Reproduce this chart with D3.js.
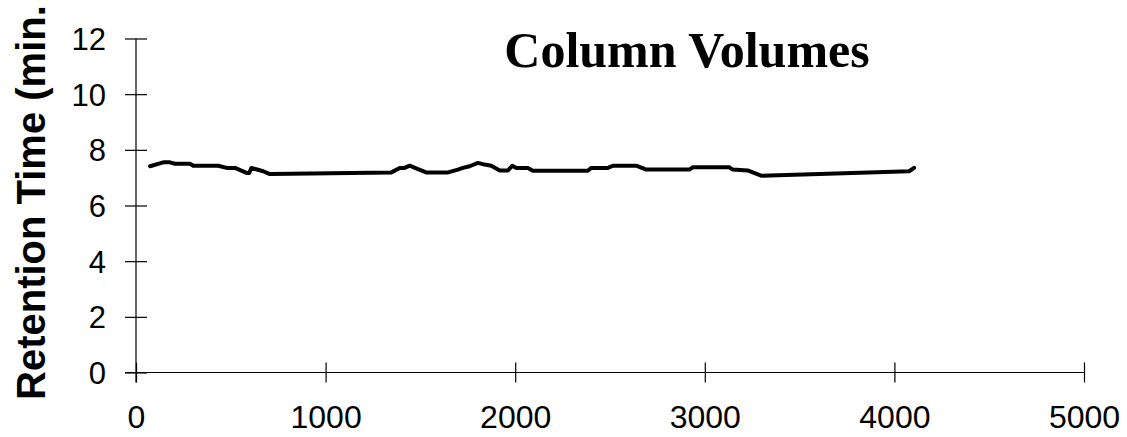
<!DOCTYPE html>
<html><head><meta charset="utf-8">
<script src="https://cdn.jsdelivr.net/npm/d3@7"></script>
<style>html,body{margin:0;padding:0;background:#fff;}svg{display:block;}</style>
</head><body>
<script>
const titleText = "Column Volumes";
const yLabelText = "Retention Time (min.";
const xTicks = [0, 1000, 2000, 3000, 4000, 5000];
const yTicks = [0, 2, 4, 6, 8, 10, 12];
const columnVolumes = [74,144,179,205,285,302,434,478,522,583,597,609,671,706,1347,1391,1417,1444,1487,1531,1646,1698,1724,1760,1803,1839,1874,1918,1962,1985,2006,2067,2093,2383,2401,2489,2515,2638,2691,2919,2936,3130,3147,3226,3297,4078,4104];
const retentionTimes = [7.41,7.55,7.55,7.50,7.50,7.43,7.43,7.35,7.35,7.17,7.17,7.35,7.23,7.13,7.19,7.35,7.35,7.43,7.31,7.19,7.19,7.29,7.35,7.41,7.53,7.47,7.43,7.26,7.26,7.43,7.35,7.35,7.25,7.25,7.35,7.35,7.43,7.43,7.29,7.29,7.37,7.37,7.29,7.26,7.07,7.23,7.35];

const W = 1127, H = 437;
const svg = d3.select("body").append("svg").attr("width", W).attr("height", H);
const x = d3.scaleLinear().domain([0, 5000]).range([136, 1084]);
const y = d3.scaleLinear().domain([0, 12]).range([372.5, 38.5]);

// axes
const xAxis = d3.axisBottom(x).tickValues(xTicks).tickSize(0).tickFormat(d3.format("d"));
const gx = svg.append("g").attr("transform", `translate(0,${y(0)})`).call(xAxis);
gx.select(".domain").remove();
svg.append("line").attr("x1", 125).attr("x2", x(5000)).attr("y1", y(0)).attr("y2", y(0)).attr("stroke", "#000").attr("stroke-width", 1.2);
gx.selectAll(".tick").append("line").attr("y1", -10).attr("y2", 10).attr("stroke", "#000").attr("stroke-width", 1.2);
gx.selectAll(".tick text").attr("y", 55.5).attr("dy", 0).attr("fill", "#000")
  .style("font-family", "Arial, 'Liberation Sans', sans-serif").style("font-size", "32px");

const yAxis = d3.axisLeft(y).tickValues(yTicks).tickSize(0);
const gy = svg.append("g").attr("transform", `translate(${x(0)},0)`).call(yAxis);
gy.select(".domain").remove();
svg.append("line").attr("x1", x(0)).attr("x2", x(0)).attr("y1", y(12)).attr("y2", y(0) + 10).attr("stroke", "#000").attr("stroke-width", 1.2);
gy.selectAll(".tick").append("line").attr("x1", -11).attr("x2", 11).attr("stroke", "#000").attr("stroke-width", 1.2);
gy.selectAll(".tick text").attr("x", -30).attr("dy", "0.35em").attr("fill", "#000")
  .style("font-family", "Arial, 'Liberation Sans', sans-serif").style("font-size", "31px");

// line
const pts = columnVolumes.map((v, i) => [v, retentionTimes[i]]);
svg.append("path").datum(pts)
  .attr("d", d3.line().x(d => x(d[0])).y(d => y(d[1])))
  .attr("fill", "none").attr("stroke", "#000").attr("stroke-width", 4)
  .attr("stroke-linejoin", "round").attr("stroke-linecap", "round");

// title
svg.append("text").attr("x", 687).attr("y", 67).attr("text-anchor", "middle")
  .style("font-family", "'Times New Roman', 'Liberation Serif', serif").style("font-weight", "bold").style("font-size", "50px")
  .text(titleText);

// y label
svg.append("text").attr("transform", "translate(45,400) rotate(-90)").attr("text-anchor", "start")
  .style("font-family", "Arial, 'Liberation Sans', sans-serif").style("font-weight", "bold").style("font-size", "40px")
  .text(yLabelText);
</script>
</body></html>
